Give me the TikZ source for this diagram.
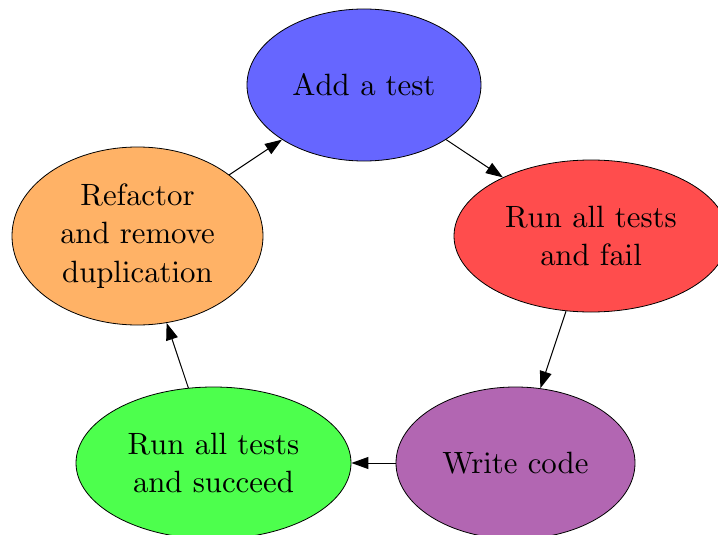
\documentclass[tikz,border=0pt]{standalone}
\usetikzlibrary{shapes.geometric,arrows.meta}
\font\stagefont=cmr10 at 30.8pt
\definecolor{cblue}{HTML}{6666FF}
\definecolor{cred}{HTML}{FF4D4D}
\definecolor{cpurple}{HTML}{B266B2}
\definecolor{cgreen}{HTML}{4DFF4D}
\definecolor{corange}{HTML}{FFB266}
\begin{document}
\begin{tikzpicture}[x=1pt,y=-1pt,
  stage/.style={ellipse,draw=black,line width=0.8pt,inner sep=0pt,align=center,
    font=\fontsize{30.8}{38.5}\selectfont\stagefont},
  flow/.style={line width=1pt,-{Triangle[length=17pt,width=12pt]}}]
\useasboundingbox (0,0) rectangle (718,535);
\node[stage,fill=cblue,minimum width=234pt,minimum height=152pt] (add) at (364,85) {Add a test};
\node[stage,fill=cred,minimum width=274pt,minimum height=152pt] (fail) at (591,236) {Run all tests\\and fail};
\node[stage,fill=cpurple,minimum width=239pt,minimum height=152pt] (code) at (515.5,463) {Write code};
\node[stage,fill=cgreen,minimum width=275pt,minimum height=152pt] (succ) at (213.5,463) {Run all tests\\and succeed};
\node[stage,fill=corange,minimum width=251pt,minimum height=178pt] (refac) at (137.5,236) {Refactor\\and remove\\duplication};
\draw[flow] (add) -- (fail);
\draw[flow] (fail) -- (code);
\draw[flow] (code) -- (succ);
\draw[flow] (succ) -- (refac);
\draw[flow] (refac) -- (add);
\end{tikzpicture}
\end{document}
